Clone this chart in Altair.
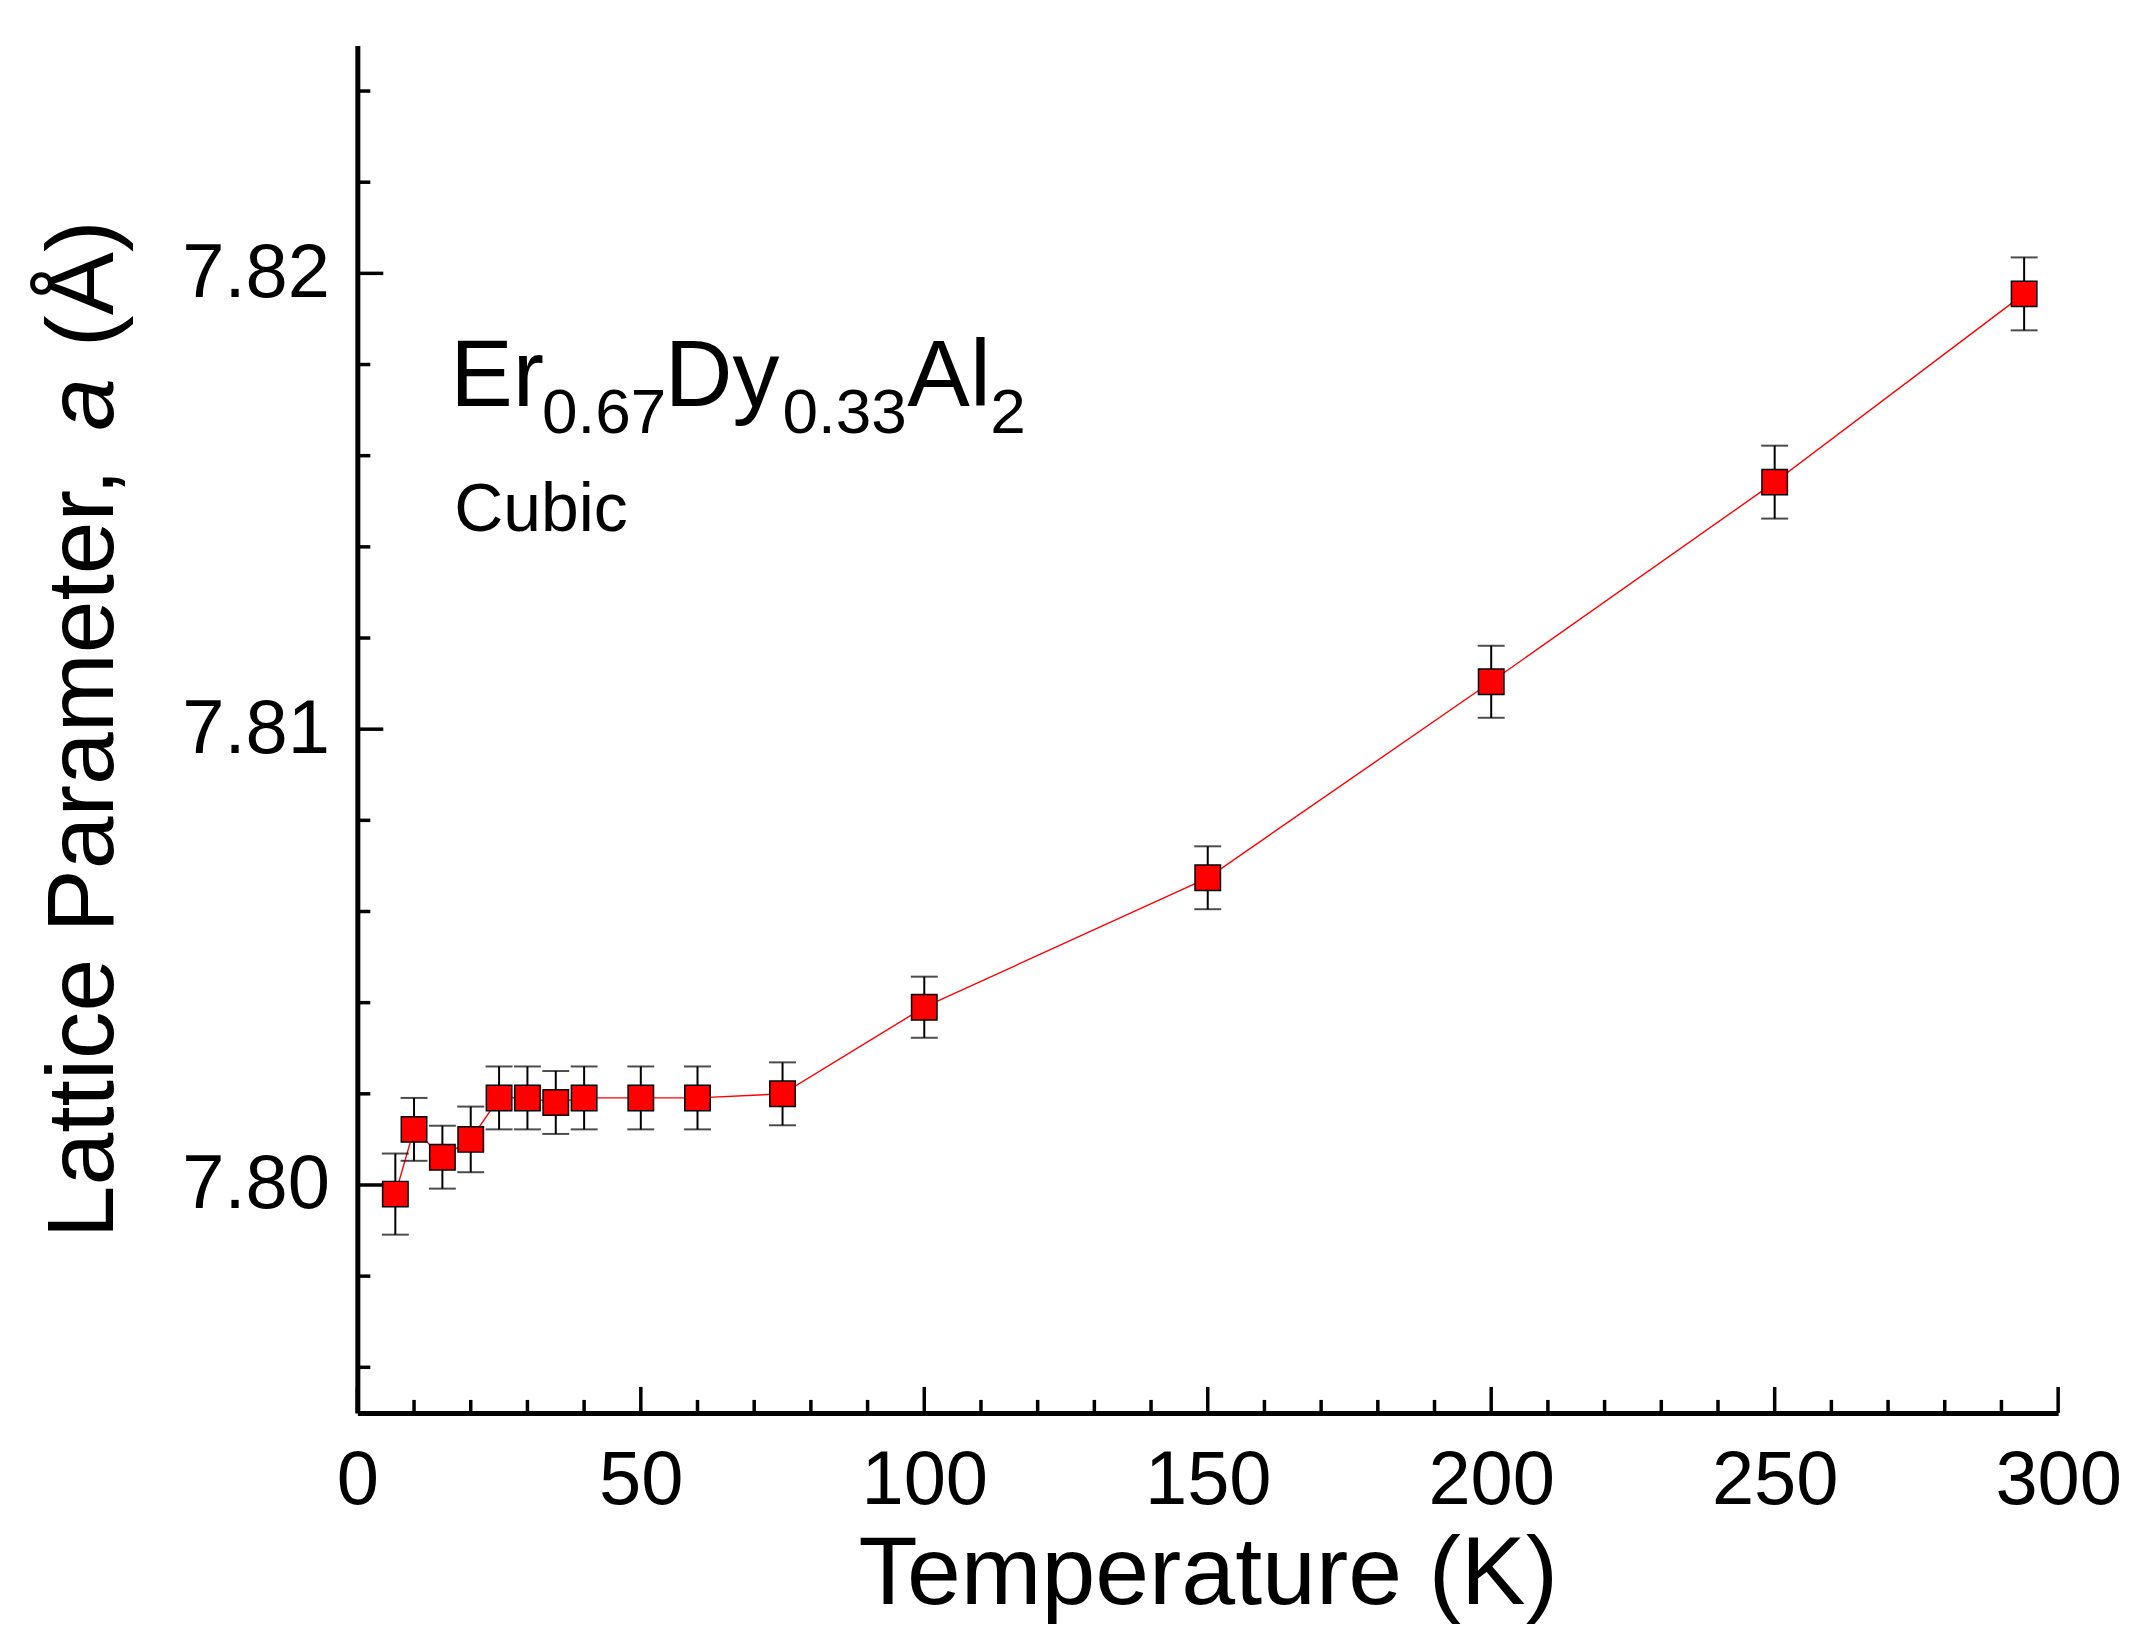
import altair as alt
import pandas as pd

# ---- data ----
temperature = [6.7, 10, 15, 20, 25, 30, 35, 40, 50, 60, 75, 100, 150, 200, 250, 294]
lattice_a = [7.7998, 7.80122, 7.80061, 7.80100, 7.80191, 7.80191, 7.80181, 7.80191,
             7.80191, 7.80191, 7.80200, 7.80390, 7.80674, 7.81104, 7.81542, 7.81955]
a_error = [0.00089, 0.00069, 0.00069, 0.00072, 0.00069, 0.00069, 0.00069, 0.00069,
           0.00069, 0.00069, 0.00069, 0.00067, 0.00069, 0.00079, 0.00080, 0.00080]

x_major_ticks = [0, 50, 100, 150, 200, 250, 300]
x_minor_ticks = [10, 20, 30, 40, 60, 70, 80, 90, 110, 120, 130, 140, 160, 170, 180, 190,
                 210, 220, 230, 240, 260, 270, 280, 290]
y_major_ticks = [7.80, 7.81, 7.82]
y_minor_ticks = [7.796, 7.798, 7.802, 7.804, 7.806, 7.808, 7.812, 7.814, 7.816, 7.818,
                 7.822, 7.824]

# ---- tables ----
df = pd.DataFrame({"T": temperature, "a": lattice_a, "err": a_error})
df["lo"] = df["a"] - df["err"]
df["hi"] = df["a"] + df["err"]
caps = pd.concat([df[["T", "lo"]].rename(columns={"lo": "v"}),
                  df[["T", "hi"]].rename(columns={"hi": "v"})], ignore_index=True)

W, H = 1704, 1370
FONT = "Liberation Sans, Arial, sans-serif"

xs = alt.Scale(domain=[0, 300], nice=False, zero=False)
ys = alt.Scale(domain=[7.795, 7.825], nice=False, zero=False)

x_axis = alt.Axis(values=x_major_ticks, format="d", title="Temperature (K)",
                  ticks=False, tickSize=0, grid=False, domainColor="black", domainWidth=5,
                  labelFont=FONT, labelFontSize=76, labelColor="black", labelPadding=91,
                  labelBaseline="alphabetic", labelFlush=False, labelOverlap=False,
                  titleFont=FONT, titleFontSize=97, titleFontWeight="normal", titleColor="black",
                  titleX=W / 2, titleY=191, titleBaseline="alphabetic", titleAlign="center")
y_axis = alt.Axis(values=y_major_ticks, format=".2f", title=None,
                  ticks=False, tickSize=0, grid=False, domainColor="black", domainWidth=5,
                  labelFont=FONT, labelFontSize=76, labelColor="black", labelPadding=28,
                  labelFlush=False, labelOverlap=False)

X = lambda f: alt.X(f, scale=xs, axis=x_axis)
Y = lambda f: alt.Y(f, scale=ys, axis=y_axis)

line = alt.Chart(df).mark_line(color="#ff0000", strokeWidth=1.4).encode(
    x=X("T:Q"), y=Y("a:Q"))
bars = alt.Chart(df).mark_rule(color="black", strokeWidth=2).encode(
    x=X("T:Q"), y=Y("lo:Q"), y2="hi:Q")
cap_marks = alt.Chart(caps).mark_tick(orient="horizontal", color="black", size=27,
                                      thickness=2).encode(x=X("T:Q"), y=Y("v:Q"))
points = alt.Chart(df).mark_square(size=650, fill="#ff0000", stroke="black", strokeWidth=1.5,
                                   opacity=1).encode(x=X("T:Q"), y=Y("a:Q"))

# inward-pointing axis ticks
def xticks(vals, length):
    return alt.Chart(pd.DataFrame({"T": vals})).mark_rule(color="black", strokeWidth=3.5).encode(
        x=X("T:Q"), y=alt.value(H), y2=alt.value(H - length))

def yticks(vals, length):
    return alt.Chart(pd.DataFrame({"a": vals})).mark_rule(color="black", strokeWidth=3.5).encode(
        y=Y("a:Q"), x=alt.value(0), x2=alt.value(length))

def label(txt, px, py, size, angle=0, italic=False):
    return alt.Chart(pd.DataFrame({"s": [txt]})).mark_text(
        align="left", baseline="alphabetic", font=FONT, fontSize=size, color="black",
        fontStyle="italic" if italic else "normal", angle=angle,
    ).encode(x=alt.value(px), y=alt.value(py), text="s:N")

texts = [
    label("Er", 93, 361, 94),
    label("0.67", 185, 388, 64),
    label("Dy", 308, 361, 94),
    label("0.33", 426, 388, 64),
    label("Al", 551, 361, 94),
    label("2", 634, 388, 64),
    label("Cubic", 97, 486, 68),
    label("Lattice Parameter,", -245, 1195, 95, angle=270),
    label("a", -245, 386, 95, angle=270, italic=True),
    label("(Å)", -245, 302, 95, angle=270),
]

chart = alt.layer(
    line, bars, cap_marks, points,
    xticks(x_major_ticks, 26), xticks(x_minor_ticks, 13),
    yticks(y_major_ticks, 26), yticks(y_minor_ticks, 13),
    *texts,
).properties(
    width=W, height=H,
    autosize=alt.AutoSizeParams(type="none"),
    padding={"left": 350, "top": 36, "right": 76, "bottom": 220},
    background="white",
).configure_view(stroke=None)

chart.save("out.html", embed_options={"renderer": "svg", "actions": False})
